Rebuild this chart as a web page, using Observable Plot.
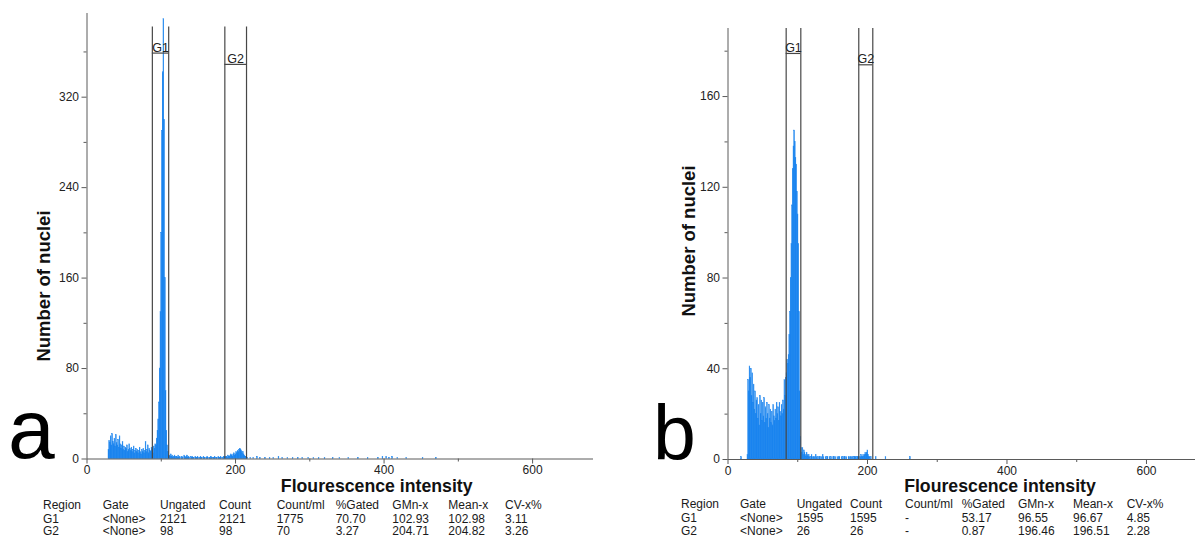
<!DOCTYPE html>
<html><head><meta charset="utf-8">
<script src="https://cdn.jsdelivr.net/npm/d3@7"></script>
<script src="https://cdn.jsdelivr.net/npm/@observablehq/plot@0.6"></script>
<style>
body{margin:0;background:#fff;font-family:"Liberation Sans",Arial,sans-serif;}
#root{position:relative;width:1195px;height:539px;overflow:hidden;background:#fff;}
.abs{position:absolute;white-space:nowrap;color:#1a1a1a;}
.panel{position:absolute;top:0;}
</style></head><body><div id="root"></div>
<script>
// ---------- data: panel a ----------
const leftNoiseStart = 29;
const leftNoise = [8,16,14,20,12,22,15,13,18,11, 21,14,12,17,10,20,13,9,12,15, 8,11,7,10,9,12,6,8,13,9, 7,10,6,8,11,5,7,9,6,8, 5,7,10,6,4,8,6,9,5,7, 15,6,8,12,5,9,7,6,10,8, 5,11,9,13];
const leftPeakStart = 93;
const leftPeak = [12,18,25,35,50,80,130,200,290,342,389,300,160,60,25,12,6,3];
const leftTailStart = 111;
const leftTail = [3,2,4,2,3,1,2,3,1,2, 2,1,3,1,2,0,1,2,1,0, 3,2,1,2,3,1,2,1,0,2, 1,2,1,1,0,2,1,1,2,1, 0,1,2,1,1,0,2,1,1,0, 1,2,1,0,1,1,2,1,0,1, 1,2,0,1,1,0,2,1,1,2, 1,0,1,2,2];
const leftG2Start = 186;
const leftG2 = [1,2,2,1,3,2,2,3,4,3, 2,4,5,3,4,6,5,7,6,8, 9,8,7,5,6,4,3,2,2,1, 1];
const leftSparseX = [220,224,229,233,240,246,251,258,263,270,277,284,290,298,305,312,320,331,340,352,365,378,392,398,403,407,411,418,430,452,470];
const leftSparseY = [1,1,2,1,1,1,1,2,1,1,1,1,1,1,1,1,1,1,1,1,1,1,1,2,2,1,2,1,1,1,1];
const leftGateNames = ["G1","G2"];
const leftGateLo = [88,185.6];
const leftGateHi = [110,214.8];
const leftGateLabelY = [359,349];
const leftGateTop = 382;
const leftXTicks = [0,200,400,600];
const leftXMinor = [100,300,500];
const leftYTicks = [0,80,160,240,320];
const leftYMinor = [40,120,200,280,360];
const leftTableHeader = ["Region","Gate","Ungated","Count","Count/ml","%Gated","GMn-x","Mean-x","CV-x%"];
const leftTableG1 = ["G1","<None>","2121","2121","1775","70.70","102.93","102.98","3.11"];
const leftTableG2 = ["G2","<None>","98","98","70","3.27","204.71","204.82","3.26"];

// ---------- data: panel b ----------
const rightLoneX = [19];
const rightLoneY = [1];
const rightNoiseStart = 28;
const rightNoise = [2,35,30,41,36,40,28,38,25,33, 22,30,20,26,27,18,24,15,28,20, 26,17,25,19,27,16,23,18,25,20, 14,24,18,22,16,21,15,24,19,17, 22,18,25,20,23,17,25,21,19,24, 20,26,22,35,28,36];
const rightPeakStart = 84;
const rightPeak = [38,44,42,46,55,65,80,95,112,128,138,145,140,133,130,118,108,95,65,30,10,5,3];
const rightTailStart = 107;
const rightTail = [5,2,4,3,2,1,3,2,1,2, 1,0,1,2,1,0,1,1,0,2, 1,0,1,0,1,1,0,1,0,2, 1,0,0,1,0,1,1,0,0,1, 0,1,0,0,1,1,0,1,0,0, 1,0,1,1,0,0,1,0,1,0, 1,1,0,1,0,0,1,1,0,1, 1,0,1,0,1,1,1,0,1,1];
const rightG2Start = 187;
const rightG2 = [1,1,0,1,2,1,1,2,1,2, 3,2,3,4,2,1,1,0,1,0, 0];
const rightSparseX = [212,226,261];
const rightSparseY = [1,1,1];
const rightGateNames = ["G1","G2"];
const rightGateLo = [83.4,187.5];
const rightGateHi = [104.4,207.6];
const rightGateLabelY = [179,174];
const rightGateTop = 190;
const rightXTicks = [0,200,400,600];
const rightXMinor = [100,300,500];
const rightYTicks = [0,40,80,120,160];
const rightYMinor = [20,60,100,140,180];
const rightTableHeader = ["Region","Gate","Ungated","Count","Count/ml","%Gated","GMn-x","Mean-x","CV-x%"];
const rightTableG1 = ["G1","<None>","1595","1595","-","53.17","96.55","96.67","4.85"];
const rightTableG2 = ["G2","<None>","26","26","-","0.87","196.46","196.51","2.28"];

const yLabel = "Number of nuclei";
const xLabel = "Flourescence intensity";

// ---------- drawing ----------
const BLUE = "#1480ee";
const GATE = "#474747";
const AXIS = "#5a5a5a";
const root = document.getElementById("root");

function bins(segments, loneX, loneY) {
  const out = [];
  for (const [start, counts] of segments) counts.forEach((c, i) => { if (c > 0) out.push({x1: start + i, x2: start + i + 1, y: c}); });
  loneX.forEach((x, i) => out.push({x1: x, x2: x + 1, y: loneY[i]}));
  return out;
}

function panel(cfg) {
  const gates = cfg.names.map((n, i) => ({name: n, lo: cfg.lo[i], hi: cfg.hi[i], ly: cfg.ly[i]}));
  const chart = Plot.plot({
    width: cfg.width, height: 539,
    marginLeft: cfg.ml, marginRight: cfg.mr, marginTop: cfg.mt, marginBottom: cfg.mb,
    x: {domain: cfg.xDomain, axis: null},
    y: {domain: cfg.yDomain, axis: null},
    style: {fontFamily: "'Liberation Sans', Arial, sans-serif", fontSize: "12px", color: "#222", background: "transparent", overflow: "visible"},
    marks: [
      Plot.rectY(cfg.bins, {x1: "x1", x2: "x2", y1: 0, y2: "y", fill: BLUE, stroke: BLUE, strokeWidth: 0.45}),
      Plot.ruleX(gates, {x: "lo", y1: 0, y2: cfg.top, stroke: GATE, strokeWidth: 1.2}),
      Plot.ruleX(gates, {x: "hi", y1: 0, y2: cfg.top, stroke: GATE, strokeWidth: 1.2}),
      Plot.ruleY(gates, {y: "ly", x1: "lo", x2: "hi", stroke: GATE, strokeWidth: 1.2}),
      Plot.text(gates, {x: d => (d.lo + d.hi) / 2, y: "ly", text: "name", dy: -5.5, fontSize: 12.5, fill: "#222"}),
      Plot.ruleY([0], {stroke: AXIS}),
      Plot.ruleX([0], {stroke: AXIS}),
      Plot.axisX({ticks: cfg.xTicks, tickSize: 5, tickPadding: 1.5, label: null, stroke: AXIS, fill: "#222"}),
      Plot.axisX({ticks: cfg.xMinor, tickSize: 3, tickFormat: () => "", label: null, stroke: AXIS}),
      Plot.axisY({ticks: cfg.yTicks, tickSize: 5, tickPadding: 3, label: null, stroke: AXIS, fill: "#222"}),
      Plot.axisY({ticks: cfg.yMinor, tickSize: 3, tickFormat: () => "", label: null, stroke: AXIS})
    ]
  });
  const wrap = document.createElement("div");
  wrap.className = "panel";
  wrap.style.left = cfg.left + "px";
  wrap.appendChild(chart);
  root.appendChild(wrap);
}

function addText(txt, left, top, css) {
  const d = document.createElement("div");
  d.className = "abs";
  d.textContent = txt;
  d.style.left = left + "px";
  d.style.top = top + "px";
  Object.assign(d.style, css || {});
  root.appendChild(d);
  return d;
}

function table(cols, rowsY, rows) {
  rows.forEach((row, r) => row.forEach((t, c) => addText(t, cols[c], rowsY[r] - 6, {fontSize: "12px", lineHeight: "12px"})));
}

panel({
  left: 0, width: 600, ml: 86.5, mr: 7, mt: 13, mb: 80.5,
  xDomain: [0, 682], yDomain: [0, 394],
  bins: bins([[leftNoiseStart, leftNoise], [leftPeakStart, leftPeak], [leftTailStart, leftTail], [leftG2Start, leftG2]], leftSparseX, leftSparseY),
  names: leftGateNames, lo: leftGateLo, hi: leftGateHi, ly: leftGateLabelY, top: leftGateTop,
  xTicks: leftXTicks, xMinor: leftXMinor, yTicks: leftYTicks, yMinor: leftYMinor
});
panel({
  left: 600, width: 595, ml: 127.5, mr: 0, mt: 28, mb: 80,
  xDomain: [0, 670.3], yDomain: [0, 190],
  bins: bins([[rightNoiseStart, rightNoise], [rightPeakStart, rightPeak], [rightTailStart, rightTail], [rightG2Start, rightG2]], rightLoneX.concat(rightSparseX), rightLoneY.concat(rightSparseY)),
  names: rightGateNames, lo: rightGateLo, hi: rightGateHi, ly: rightGateLabelY, top: rightGateTop,
  xTicks: rightXTicks, xMinor: rightXMinor, yTicks: rightYTicks, yMinor: rightYMinor
});

// panel letters
addText("a", 8, 387, {fontSize: "84px", lineHeight: "84px", color: "#000"});
addText("b", 653, 395, {fontSize: "77px", lineHeight: "77px", color: "#000"});

// axis titles
addText(yLabel, 43, 286, {fontSize: "18.5px", fontWeight: "bold", lineHeight: "19px", color: "#111", transform: "translate(-50%,-50%) rotate(-90deg)"});
addText(yLabel, 688, 241, {fontSize: "18.5px", fontWeight: "bold", lineHeight: "19px", color: "#111", transform: "translate(-50%,-50%) rotate(-90deg)"});
addText(xLabel, 376.7, 486, {fontSize: "17.7px", fontWeight: "bold", lineHeight: "15px", color: "#111", transform: "translate(-50%,-50%)"});
addText(xLabel, 1000, 486, {fontSize: "17.7px", fontWeight: "bold", lineHeight: "15px", color: "#111", transform: "translate(-50%,-50%)"});

// tables
table([43,102.7,160,219,276.7,335.7,392.3,448.3,505], [505,518.5,531], [leftTableHeader, leftTableG1, leftTableG2]);
table([681,740,796.7,850,905,961.7,1018,1073,1126.7], [504,517.5,530.5], [rightTableHeader, rightTableG1, rightTableG2]);
</script>
</body></html>
